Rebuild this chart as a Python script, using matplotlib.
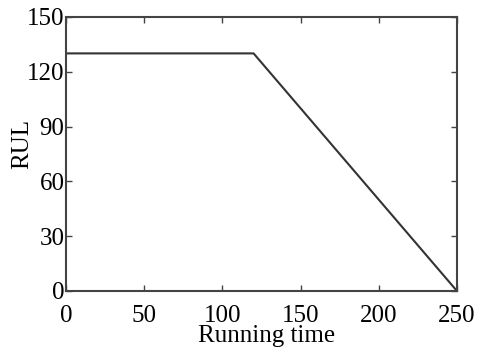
import matplotlib
matplotlib.use("Agg")
import matplotlib.pyplot as plt

# RUL 分段线性标签
time_pts = [0, 120, 250]
rul_pts = [130, 130, 0]

plt.rcParams['font.family'] = ['Liberation Serif', 'DejaVu Serif']

fig = plt.figure(figsize=(4.81, 3.51), dpi=100)
ax = fig.add_axes([0.137, 0.171, 0.813, 0.781])

ax.plot(time_pts, rul_pts, color='#333333', linewidth=1.5)

ax.set_xlim(0, 250)
ax.set_ylim(0, 150)
ax.set_xticks([0, 50, 100, 150, 200, 250])
ax.set_yticks([0, 30, 60, 90, 120, 150])
ax.tick_params(direction='in', top=True, right=True, length=4, width=1,
               color='#444444', labelsize=18)
ax.tick_params(axis='x', pad=10)
ax.tick_params(axis='y', pad=1)
for s in ax.spines.values():
    s.set_color('#444444')
    s.set_linewidth(1.5)

ax.set_xlabel('Running time', fontsize=18)
ax.set_ylabel('RUL', fontsize=18)
ax.xaxis.set_label_coords(0.514, -0.125)
ax.yaxis.set_label_coords(-0.083, 0.535)

fig.savefig('out.png', dpi=100)
